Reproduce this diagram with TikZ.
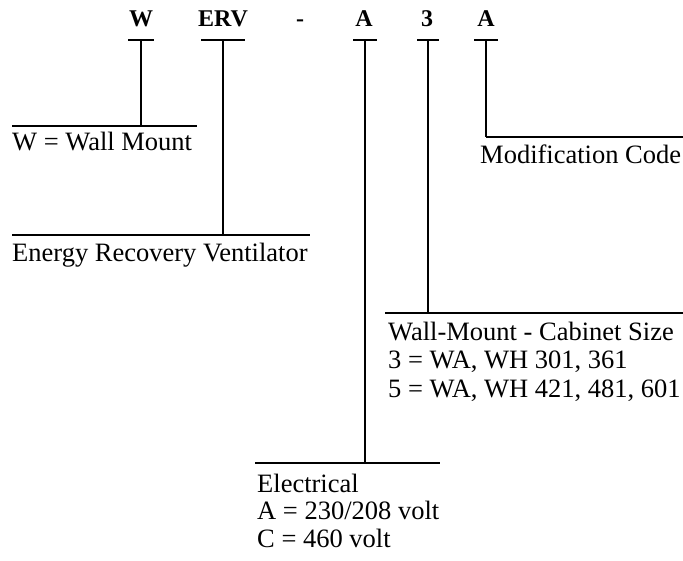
\documentclass[tikz,border=0pt]{standalone}
\usepackage{fontspec}
\setmainfont{Liberation Serif}
\begin{document}
\begin{tikzpicture}[x=1pt,y=-1pt,
  code/.style={font=\fontsize{24}{24}\selectfont\bfseries, anchor=base, inner sep=0pt},
  lab/.style={font=\fontsize{26.5}{28}\selectfont, anchor=base west, inner sep=0pt},
  ln/.style={line width=1.6pt},
  tickbar/.style={line width=2.4pt}]
\useasboundingbox (0,0) rectangle (683,561);

% code letters
\node[code] (cW)   at (141,27) {W};
\node[code] (cERV) at (223,27) {ERV};
\node[code] (cdash) at (300,27) {-};
\node[code] (cA)   at (364,27) {A};
\node[code] (c3)   at (427,27) {3};
\node[code] (cM)   at (486,27) {A};

% tick coordinates
\coordinate (tW) at (141,40);
\coordinate (tERV) at (223,40);
\coordinate (tA) at (365,40);
\coordinate (t3) at (428,40);
\coordinate (tM) at (486,40);

\draw[tickbar] ([xshift=-13pt]tW) -- ([xshift=13pt]tW);
\draw[tickbar] ([xshift=-22pt]tERV) -- ([xshift=22pt]tERV);
\draw[tickbar] ([xshift=-12pt]tA) -- ([xshift=12pt]tA);
\draw[tickbar] ([xshift=-11pt]t3) -- ([xshift=11pt]t3);
\draw[tickbar] ([xshift=-12pt]tM) -- ([xshift=12pt]tM);

% junctions and horizontal ends
\coordinate (jW) at (141,126);   \coordinate (hW1) at (12,126);  \coordinate (hW2) at (197,126);
\coordinate (jM) at (486,137);   \coordinate (hM2) at (683,137);
\coordinate (jERV) at (223,235); \coordinate (hE1) at (12,235);  \coordinate (hE2) at (310,235);
\coordinate (j3) at (428,313);   \coordinate (h31) at (385,313); \coordinate (h32) at (683,313);
\coordinate (jA) at (365,463);   \coordinate (hA1) at (255,463); \coordinate (hA2) at (440,463);

\draw[ln] (tW) -- (jW);
\draw[ln] (hW1) -- (hW2);
\draw[ln] (tM) -- (jM);
\draw[ln] (jM) -- (hM2);
\draw[ln] (tERV) -- (jERV);
\draw[ln] (hE1) -- (hE2);
\draw[ln] (t3) -- (j3);
\draw[ln] (h31) -- (h32);
\draw[ln] (tA) -- (jA);
\draw[ln] (hA1) -- (hA2);

% labels
\node[lab] (lW) at (12,151) {W = Wall Mount};
\node[lab] (lM) at (480,164) {Modification Code};
\node[lab] (lE) at (12,262) {Energy Recovery Ventilator};
\node[lab] (l31) at (388,341) {Wall-Mount - Cabinet Size};
\node[lab] (l32) at (388,369) {3 = WA, WH 301, 361};
\node[lab] (l33) at (388,397) {5 = WA, WH 421, 481, 601};
\node[lab] (lA1) at (257,492) {Electrical};
\node[lab] (lA2) at (257,519) {A = 230/208 volt};
\node[lab] (lA3) at (257,547) {C = 460 volt};
\end{tikzpicture}
\end{document}
